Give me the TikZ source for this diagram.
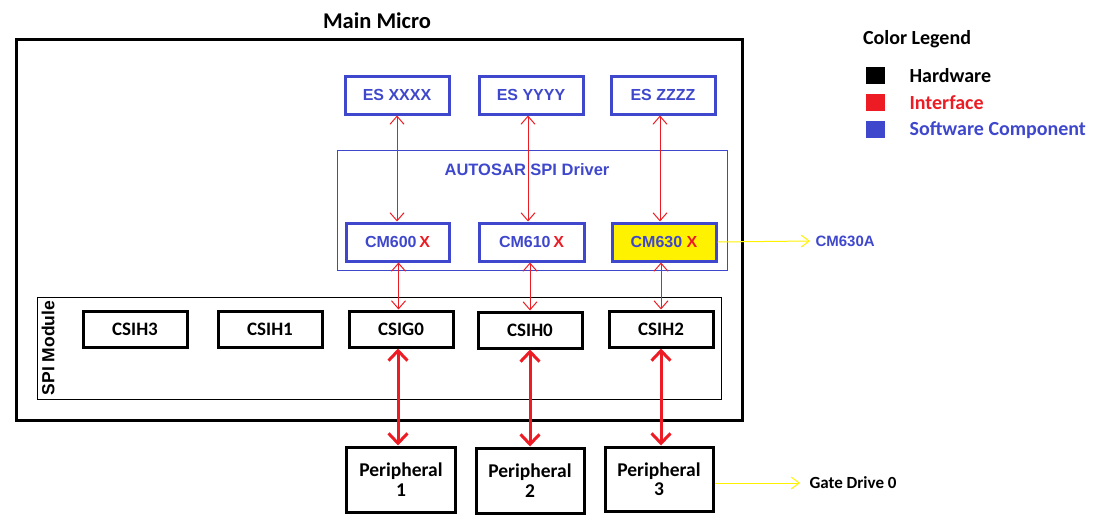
\documentclass[tikz,border=0pt]{standalone}
\usepackage{fontspec}
\setmainfont{Carlito}
\newfontfamily\arialfont{Liberation Sans}
\usetikzlibrary{arrows.meta}
\definecolor{swblue}{RGB}{63, 72, 204}
\definecolor{ifred}{RGB}{237, 28, 36}
\definecolor{hlyellow}{RGB}{255, 242, 0}
\newcommand{\fsz}[1]{\fontsize{#1}{#1}\selectfont}

\begin{document}
\begin{tikzpicture}[x=1pt, y=-1pt,
      swbox/.style={draw=swblue, line width=3pt, fill=white,
                    minimum width=104pt, minimum height=38pt,
                    inner sep=0pt, text=swblue,
                    font=\arialfont\bfseries\fsz{16}},
      hwbox/.style={draw=black, line width=3pt, fill=white,
                    minimum width=104pt, minimum height=36pt,
                    inner sep=0pt, font=\bfseries\fsz{19}},
      perbox/.style={hwbox, minimum width=109pt, minimum height=65pt,
                     align=center, font=\bfseries\fsz{19.5}},
      ifline/.style={ifred, line width=1pt,
                     {Straight Barb[length=8pt,width=14pt]}-{Straight Barb[length=8pt,width=14pt]}},
      busline/.style={ifred, line width=3pt,
                      {Straight Barb[length=10pt,width=19pt]}-{Straight Barb[length=10pt,width=19pt]}},
      noteline/.style={hlyellow, line width=1pt,
                       -{Straight Barb[length=8pt,width=12pt]}},
      lgsq/.style={minimum width=19pt, minimum height=17pt, inner sep=0pt},
      lglbl/.style={anchor=west, font=\bfseries\fsz{20}},
    ]
    \useasboundingbox (0,0) rectangle (1102,527);

    %% outer boxes
    \draw[line width=3pt] (16,40) rectangle (742,420);
    \node[font=\bfseries\fsz{22.5}] (title) at (377,21) {Main Micro};
    \draw[swblue, line width=1pt] (337,150) rectangle (727,270);
    \node[text=swblue, font=\arialfont\bfseries\fsz{16.5}] (drv) at (527,170) {AUTOSAR SPI Driver};
    \draw[line width=1pt] (37,297) rectangle (721,399);
    \node[rotate=90, font=\arialfont\bfseries\fsz{17.5}] (spi) at (48,348) {SPI Module};

    %% software components
    \node[swbox] (es-x) at (397,95) {ES XXXX};
    \node[swbox] (es-y) at (531,95) {ES YYYY};
    \node[swbox] (es-z) at (663,95) {ES ZZZZ};
    \node[swbox, minimum width=103pt] (cm0) at (397.5,242) {CM600\,\textcolor{ifred}{X}};
    \node[swbox, minimum width=105pt] (cm1) at (531.5,242) {CM610\,\textcolor{ifred}{X}};
    \node[swbox, fill=hlyellow] (cm3) at (664,242) {CM630\;\textcolor{ifred}{X}};

    %% hardware units
    \node[hwbox] (csih3) at (135,329) {CSIH3};
    \node[hwbox] (csih1) at (270,329) {CSIH1};
    \node[hwbox] (csig0) at (401,329) {CSIG0};
    \node[hwbox] (csih0) at (530,330) {CSIH0};
    \node[hwbox] (csih2) at (661,329) {CSIH2};
    \node[perbox] (per1) at (401,479.5) {Peripheral\\1};
    \node[perbox, minimum width=108pt] (per2) at (530,480.5) {Peripheral\\2};
    \node[perbox, minimum width=108pt, minimum height=64pt] (per3) at (659,479) {Peripheral\\3};

    %% interfaces
    \draw[ifline] (es-x.south) -- (cm0.north -| es-x.south);
    \draw[ifline] ([xshift=-3pt]es-y.south) -- ([xshift=-3pt]cm1.north -| es-y.south);
    \draw[ifline] ([xshift=-3pt]es-z.south) -- ([xshift=-3pt]cm3.north -| es-z.south);
    \draw[ifline] ([xshift=1pt]cm0.south) -- ([xshift=1pt]csig0.north -| cm0.south);
    \draw[ifline] (csih0.north |- cm1.south) -- (csih0.north);
    \draw[ifline] (csih2.north |- cm3.south) -- (csih2.north);
    \draw[busline] ([xshift=-3pt]csig0.south) -- ([xshift=-3pt]per1.north);
    \draw[busline] (csih0.south) -- (per2.north);
    \draw[busline] (csih2.south) -- (csih2.south |- per3.north);

    %% notes
    \node[anchor=west, text=swblue, font=\arialfont\bfseries\fsz{15}] (lbl-a) at (812,241) {CM630A};
    \draw[noteline] (cm3.east) -- ([xshift=-2pt]lbl-a.west);
    \node[anchor=west, font=\bfseries\fsz{17}] (lbl-gd) at (806,483) {Gate Drive 0};
    \draw[noteline] (per3.east |- lbl-gd.west) -- ([xshift=-6pt]lbl-gd.west);

    %% legend
    \node[font=\bfseries\fsz{20}] (lg-title) at (917,39) {Color Legend};
    \node[lgsq, fill=black] (sq-hw) at (875.5,75.5) {};
    \node[lgsq, fill=ifred] (sq-if) at (875.5,102.5) {};
    \node[lgsq, fill=swblue] (sq-sw) at (875.5,129.5) {};
    \node[lglbl] (lg-hw) at (906,76) {Hardware};
    \node[lglbl, text=ifred] (lg-if) at (906,103) {Interface};
    \node[lglbl, text=swblue] (lg-sw) at (906,130) {Software Component};
  \end{tikzpicture}
\end{document}
